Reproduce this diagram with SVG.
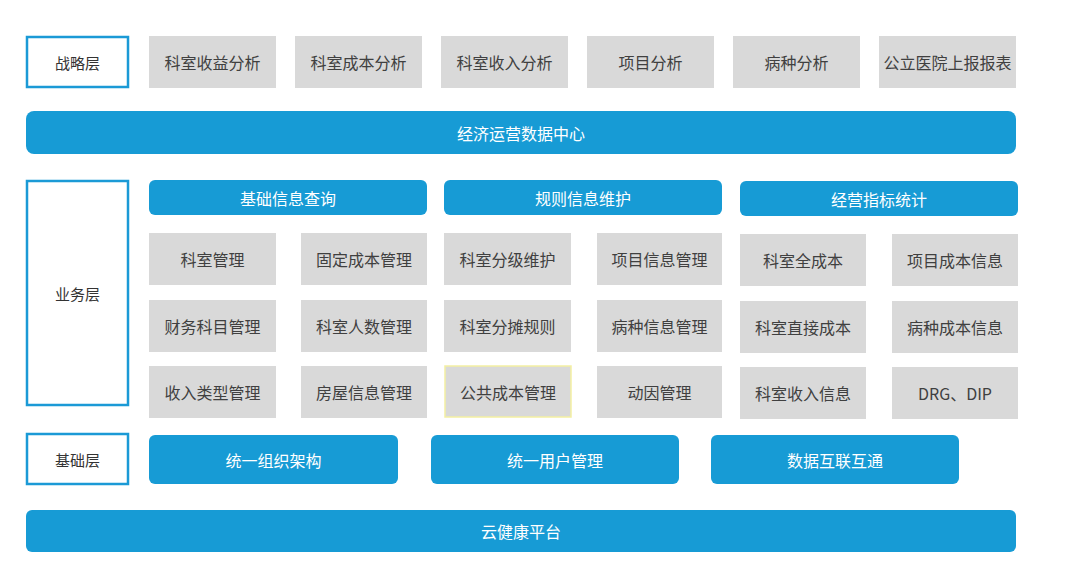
<svg xmlns="http://www.w3.org/2000/svg" width="1080" height="583" viewBox="0 0 1080 583">
<style>
text{font-family:"Noto Sans CJK SC","Liberation Sans",sans-serif;font-size:16px;text-anchor:middle;dominant-baseline:central}
.layer rect{fill:#fff;stroke:#1b9ad6;stroke-width:2.5}
.layer text{fill:#333;font-size:15px}
.g rect{fill:#d9d9d9}
.g text{fill:#404040}
.b rect{fill:#179bd5}
.b text{fill:#fff}
</style>
<rect width="1080" height="583" fill="#fff"/>
<g id="layer-strategy" class="layer"><rect x="27" y="37" width="101" height="50"/><text x="77.5" y="62">战略层</text></g>
<g id="s1" class="g"><rect x="149" y="36" width="127" height="52"/><text x="212.5" y="62">科室收益分析</text></g>
<g id="s2" class="g"><rect x="295" y="36" width="127" height="52"/><text x="358.5" y="62">科室成本分析</text></g>
<g id="s3" class="g"><rect x="441" y="36" width="127" height="52"/><text x="504.5" y="62">科室收入分析</text></g>
<g id="s4" class="g"><rect x="587" y="36" width="127" height="52"/><text x="650.5" y="62">项目分析</text></g>
<g id="s5" class="g"><rect x="733" y="36" width="127" height="52"/><text x="796.5" y="62">病种分析</text></g>
<g id="s6" class="g"><rect x="879" y="36" width="137" height="52"/><text x="947.5" y="62">公立医院上报报表</text></g>
<g id="datacenter" class="b"><rect x="26" y="111" width="990" height="43" rx="8"/><text x="521" y="132.5">经济运营数据中心</text></g>
<g id="layer-business" class="layer"><rect x="27" y="181" width="101" height="224"/><text x="77.5" y="293">业务层</text></g>
<g id="h1" class="b"><rect x="149" y="180" width="278" height="35" rx="6"/><text x="288" y="197.5">基础信息查询</text></g>
<g id="h2" class="b"><rect x="444" y="180" width="278" height="35" rx="6"/><text x="583" y="197.5">规则信息维护</text></g>
<g id="h3" class="b"><rect x="740" y="181" width="278" height="35" rx="6"/><text x="879" y="198.5">经营指标统计</text></g>
<g id="r1c1" class="g"><rect x="149" y="233" width="127" height="52"/><text x="212.5" y="259">科室管理</text></g>
<g id="r1c2" class="g"><rect x="301" y="233" width="126" height="52"/><text x="364" y="259">固定成本管理</text></g>
<g id="r1c3" class="g"><rect x="444" y="233" width="127" height="52"/><text x="507.5" y="259">科室分级维护</text></g>
<g id="r1c4" class="g"><rect x="597" y="233" width="125" height="52"/><text x="659.5" y="259">项目信息管理</text></g>
<g id="r1c5" class="g"><rect x="740" y="234" width="126" height="52"/><text x="803" y="260">科室全成本</text></g>
<g id="r1c6" class="g"><rect x="892" y="234" width="126" height="52"/><text x="955" y="260">项目成本信息</text></g>
<g id="r2c1" class="g"><rect x="149" y="300" width="127" height="52"/><text x="212.5" y="326">财务科目管理</text></g>
<g id="r2c2" class="g"><rect x="301" y="300" width="126" height="52"/><text x="364" y="326">科室人数管理</text></g>
<g id="r2c3" class="g"><rect x="444" y="300" width="127" height="52"/><text x="507.5" y="326">科室分摊规则</text></g>
<g id="r2c4" class="g"><rect x="597" y="300" width="125" height="52"/><text x="659.5" y="326">病种信息管理</text></g>
<g id="r2c5" class="g"><rect x="740" y="301" width="126" height="52"/><text x="803" y="327">科室直接成本</text></g>
<g id="r2c6" class="g"><rect x="892" y="301" width="126" height="52"/><text x="955" y="327">病种成本信息</text></g>
<g id="r3c1" class="g"><rect x="149" y="366" width="127" height="52"/><text x="212.5" y="392">收入类型管理</text></g>
<g id="r3c2" class="g"><rect x="301" y="366" width="126" height="52"/><text x="364" y="392">房屋信息管理</text></g>
<g id="r3c3" class="g"><rect x="445" y="366" width="126" height="51" stroke="#f3efa2" stroke-width="1.5"/><text x="508" y="392">公共成本管理</text></g>
<g id="r3c4" class="g"><rect x="597" y="366" width="125" height="52"/><text x="659.5" y="392">动因管理</text></g>
<g id="r3c5" class="g"><rect x="740" y="367" width="126" height="52"/><text x="803" y="393">科室收入信息</text></g>
<g id="r3c6" class="g"><rect x="892" y="367" width="126" height="52"/><text x="955" y="393">DRG、DIP</text></g>
<g id="layer-base" class="layer"><rect x="27" y="434" width="101" height="50"/><text x="77.5" y="459">基础层</text></g>
<g id="f1" class="b"><rect x="149" y="435" width="249" height="49" rx="6"/><text x="273.5" y="459.5">统一组织架构</text></g>
<g id="f2" class="b"><rect x="431" y="435" width="248" height="49" rx="6"/><text x="555" y="459.5">统一用户管理</text></g>
<g id="f3" class="b"><rect x="711" y="435" width="248" height="49" rx="6"/><text x="835" y="459.5">数据互联互通</text></g>
<g id="cloud" class="b"><rect x="26" y="510" width="990" height="42" rx="6"/><text x="521" y="531">云健康平台</text></g>
<g id="connectors"></g>
</svg>
